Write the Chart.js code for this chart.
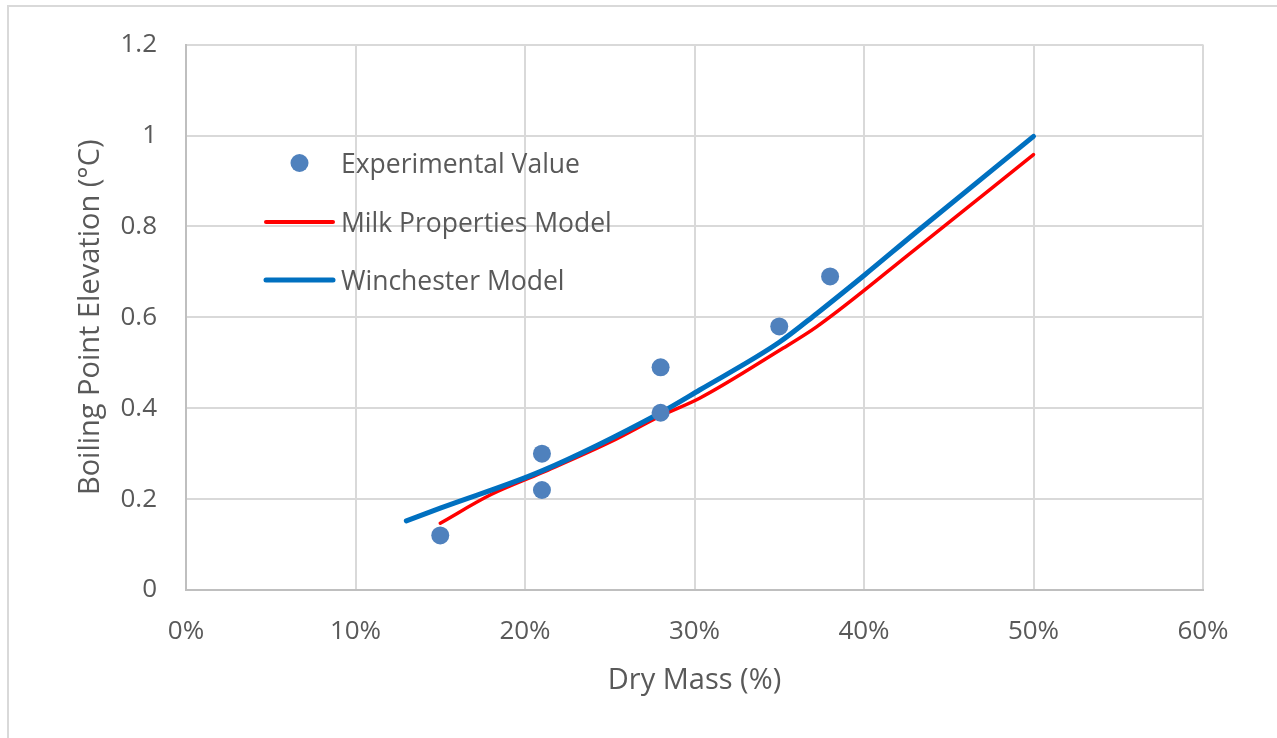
<!DOCTYPE html>
<html>
<head>
<meta charset="utf-8">
<title>Boiling Point Elevation vs Dry Mass</title>
<script src="https://cdn.jsdelivr.net/npm/chart.js@4.4.1/dist/chart.umd.min.js"></script>
<style>
  html, body { margin: 0; padding: 0; background: #fff; overflow: hidden; }
  #frame {
    position: absolute; left: 7px; top: 5px; width: 1400px; height: 900px;
    border-left: 2px solid #d9d9d9; border-top: 2px solid #d9d9d9;
  }
  #wrap { position: absolute; left: 0; top: 0; width: 1277px; height: 738px; }
</style>
</head>
<body>
<div id="frame"></div>
<div id="wrap"><canvas id="bpeChart" width="1277" height="738"></canvas></div>
<script>
// ---------- Data ----------
const expDryMass = [15, 21, 21, 28, 28, 35, 38];
const expBPE = [0.12, 0.30, 0.22, 0.49, 0.39, 0.58, 0.69];

const milkDryMass = [15, 18, 21, 25, 28, 30.3, 35, 37.2, 43, 50];
const milkBPE = [0.147, 0.21, 0.258, 0.325, 0.383, 0.422, 0.527, 0.579, 0.749, 0.958];

const winDryMass = [13, 15, 21, 28, 30.3, 35, 37.2, 40, 43, 50];
const winBPE = [0.152, 0.18, 0.262, 0.39, 0.44, 0.545, 0.608, 0.692, 0.785, 0.998];

const legendItems = ["Experimental Value", "Milk Properties Model", "Winchester Model"];

// ---------- Palette ----------
const COLORS = {
  text: "#595959",
  grid: "#d9d9d9",
  axis: "#bfbfbf",
  marker: "#4f81bd",
  red: "#ff0000",
  blue: "#0070c0",
};
const FONT = "'Open Sans', 'Noto Sans', sans-serif";

const toXY = (xs, ys) => xs.map((x, i) => ({ x, y: ys[i] }));

// legend sits inside the plot, upper-left
const insideLegend = {
  id: "insideLegend",
  afterDraw(chart) {
    const { ctx } = chart;
    const x0 = 266, x1 = 333, tx = 341;
    const rows = [163, 222, 280];
    ctx.save();
    ctx.fillStyle = COLORS.marker;
    ctx.beginPath();
    ctx.arc((x0 + x1) / 2, rows[0], 9, 0, Math.PI * 2);
    ctx.fill();
    ctx.lineCap = "round";
    ctx.strokeStyle = COLORS.red;
    ctx.lineWidth = 4;
    ctx.beginPath(); ctx.moveTo(x0, rows[1]); ctx.lineTo(x1, rows[1]); ctx.stroke();
    ctx.strokeStyle = COLORS.blue;
    ctx.lineWidth = 5;
    ctx.beginPath(); ctx.moveTo(x0, rows[2]); ctx.lineTo(x1, rows[2]); ctx.stroke();
    ctx.fillStyle = COLORS.text;
    ctx.font = "26.5px " + FONT;
    ctx.textBaseline = "middle";
    legendItems.forEach((t, i) => ctx.fillText(t, tx, rows[i] + 2));
    ctx.restore();
  },
};

new Chart(document.getElementById("bpeChart"), {
  type: "scatter",
  data: {
    datasets: [
      {
        label: legendItems[0],
        data: toXY(expDryMass, expBPE),
        backgroundColor: COLORS.marker,
        borderColor: COLORS.marker,
        pointRadius: 9,
        pointBorderWidth: 0,
        showLine: false,
        order: 0,
      },
      {
        label: legendItems[2],
        data: toXY(winDryMass, winBPE),
        borderColor: COLORS.blue,
        borderWidth: 5,
        borderCapStyle: "round",
        pointRadius: 0,
        showLine: true,
        cubicInterpolationMode: "monotone",
        order: 1,
      },
      {
        label: legendItems[1],
        data: toXY(milkDryMass, milkBPE),
        borderColor: COLORS.red,
        borderWidth: 3.5,
        borderCapStyle: "round",
        pointRadius: 0,
        showLine: true,
        cubicInterpolationMode: "monotone",
        order: 2,
      },
    ],
  },
  options: {
    responsive: false,
    animation: false,
    layout: { padding: { left: 0, top: 44, right: 74, bottom: 0 } },
    plugins: { legend: { display: false }, tooltip: { enabled: false } },
    scales: {
      x: {
        min: 0,
        max: 60,
        afterFit: (s) => { s.height = 148; },
        ticks: {
          stepSize: 10,
          padding: 26,
          color: COLORS.text,
          font: { family: FONT, size: 26 },
          callback: (v) => v + "%",
        },
        grid: { color: COLORS.grid, lineWidth: 2, drawTicks: false },
        border: { color: COLORS.axis, width: 2 },
        title: {
          display: true,
          text: "Dry Mass (%)",
          color: COLORS.text,
          font: { family: FONT, size: 29 },
          padding: { top: 0, bottom: 40 },
        },
      },
      y: {
        min: 0,
        max: 1.2,
        afterFit: (s) => { s.width = 186; },
        ticks: {
          stepSize: 0.2,
          padding: 29,
          color: COLORS.text,
          font: { family: FONT, size: 26 },
          callback: (v) => String(+v.toFixed(1)),
        },
        grid: { color: COLORS.grid, lineWidth: 2, drawTicks: false },
        border: { color: COLORS.axis, width: 2 },
        title: {
          display: true,
          text: "Boiling Point Elevation (°C)",
          color: COLORS.text,
          font: { family: FONT, size: 29 },
          padding: { top: 73, bottom: 0 },
        },
      },
    },
  },
  plugins: [insideLegend],
});
</script>
</body>
</html>
